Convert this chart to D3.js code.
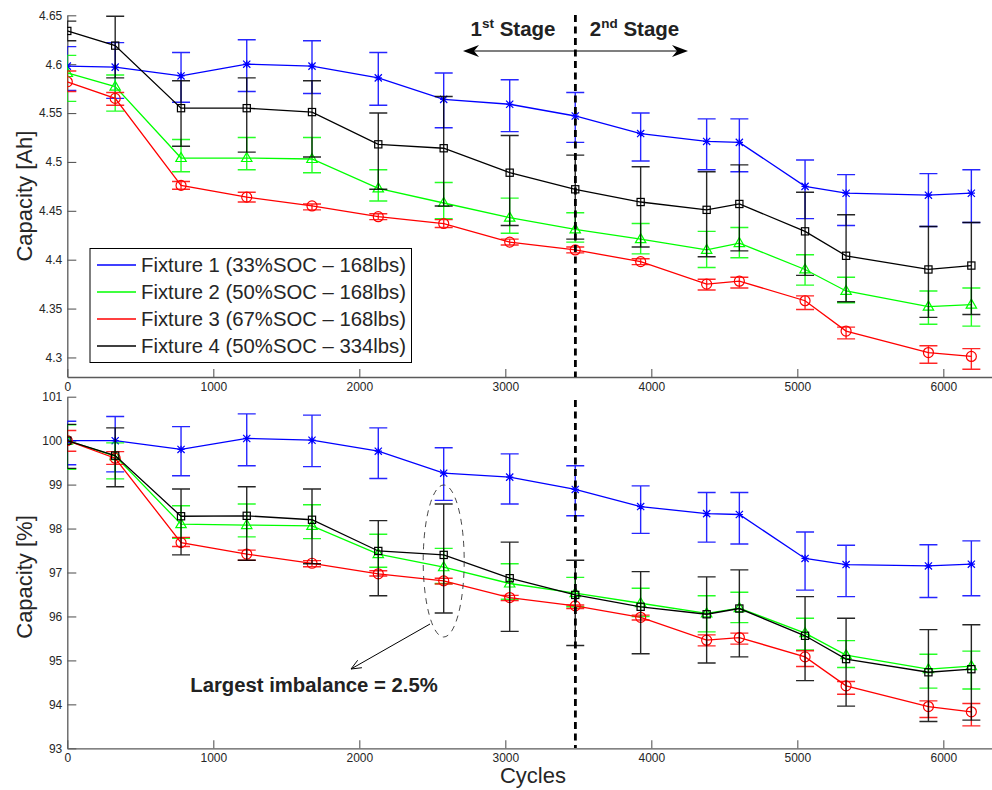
<!DOCTYPE html>
<html><head><meta charset="utf-8">
<script src="https://cdn.jsdelivr.net/npm/d3@7"></script>
<style>
html,body{margin:0;padding:0;background:#fff;}
svg{display:block;font-family:"Liberation Sans",Arial,Helvetica,sans-serif;}
</style></head>
<body><svg id="chart" width="992" height="790"></svg>
<script>
// ---------- data ----------
const cycles = [0, 328, 779, 1229, 1676, 2130, 2578, 3030, 3479, 3927, 4379, 4603, 5053, 5334, 5898, 6192];
const seriesNames = ["Fixture 1 (33%SOC \u2013 168lbs)", "Fixture 2 (50%SOC \u2013 168lbs)", "Fixture 3 (67%SOC \u2013 168lbs)", "Fixture 4 (50%SOC \u2013 334lbs)"];
const seriesColors = ["#0000ff", "#00ff00", "#ff0000", "#000000"];
const seriesMarkers = ["asterisk", "triangle", "circle", "square"];

// Capacity [Ah]
const ah1   = [4.598, 4.597, 4.588, 4.600, 4.598, 4.586, 4.564, 4.559, 4.547, 4.529, 4.521, 4.520, 4.475, 4.468, 4.466, 4.468];
const ah1Hi = [4.618, 4.622, 4.612, 4.625, 4.624, 4.612, 4.591, 4.584, 4.571, 4.550, 4.544, 4.544, 4.502, 4.487, 4.488, 4.492];
const ah1Lo = [4.573, 4.565, 4.561, 4.572, 4.570, 4.558, 4.535, 4.531, 4.520, 4.501, 4.492, 4.490, 4.442, 4.435, 4.434, 4.438];
const ah2   = [4.591, 4.577, 4.504, 4.504, 4.503, 4.473, 4.458, 4.443, 4.431, 4.421, 4.410, 4.417, 4.390, 4.368, 4.352, 4.354];
const ah2Hi = [4.609, 4.589, 4.523, 4.525, 4.525, 4.492, 4.479, 4.463, 4.448, 4.437, 4.429, 4.433, 4.405, 4.382, 4.368, 4.371];
const ah2Lo = [4.562, 4.552, 4.490, 4.492, 4.489, 4.460, 4.442, 4.427, 4.418, 4.406, 4.392, 4.402, 4.374, 4.356, 4.334, 4.332];
const ah3   = [4.582, 4.565, 4.476, 4.464, 4.455, 4.444, 4.437, 4.418, 4.410, 4.398, 4.375, 4.378, 4.358, 4.327, 4.305, 4.301];
const ah3Hi = [4.593, 4.571, 4.480, 4.469, 4.457, 4.447, 4.441, 4.421, 4.413, 4.401, 4.380, 4.382, 4.363, 4.331, 4.312, 4.309];
const ah3Lo = [4.572, 4.558, 4.472, 4.459, 4.451, 4.441, 4.433, 4.415, 4.407, 4.395, 4.369, 4.371, 4.349, 4.319, 4.294, 4.288];
const ah4   = [4.634, 4.619, 4.555, 4.555, 4.551, 4.518, 4.514, 4.489, 4.472, 4.459, 4.451, 4.457, 4.429, 4.404, 4.390, 4.394];
const ah4Hi = [4.644, 4.649, 4.583, 4.586, 4.583, 4.550, 4.567, 4.527, 4.507, 4.495, 4.490, 4.497, 4.469, 4.446, 4.434, 4.438];
const ah4Lo = [4.624, 4.586, 4.516, 4.510, 4.505, 4.472, 4.455, 4.435, 4.421, 4.413, 4.403, 4.409, 4.384, 4.357, 4.341, 4.344];

// Capacity [%]
const pc1   = [100.00, 100.00, 99.80, 100.05, 100.01, 99.76, 99.26, 99.17, 98.89, 98.50, 98.34, 98.32, 97.32, 97.18, 97.15, 97.19];
const pc1Hi = [100.44, 100.55, 100.32, 100.61, 100.58, 100.29, 99.84, 99.70, 99.43, 98.97, 98.82, 98.82, 97.92, 97.62, 97.63, 97.72];
const pc1Lo = [99.45, 99.29, 99.20, 99.43, 99.41, 99.14, 98.64, 98.56, 98.29, 97.89, 97.69, 97.65, 96.60, 96.45, 96.43, 96.47];
const pc2   = [100.00, 99.65, 98.10, 98.08, 98.06, 97.42, 97.12, 96.75, 96.53, 96.30, 96.07, 96.19, 95.62, 95.12, 94.80, 94.87];
const pc2Hi = [100.36, 99.95, 98.52, 98.56, 98.54, 97.87, 97.55, 97.20, 96.89, 96.64, 96.47, 96.55, 95.96, 95.45, 95.14, 95.21];
const pc2Lo = [99.35, 99.13, 97.78, 97.81, 97.77, 97.12, 96.75, 96.39, 96.22, 96.00, 95.65, 95.86, 95.24, 94.84, 94.37, 94.35];
const pc3   = [100.00, 99.60, 97.68, 97.42, 97.21, 96.97, 96.81, 96.43, 96.24, 95.98, 95.46, 95.52, 95.08, 94.42, 93.95, 93.83];
const pc3Hi = [100.23, 99.75, 97.80, 97.51, 97.27, 97.04, 96.87, 96.48, 96.26, 96.03, 95.58, 95.62, 95.22, 94.52, 94.08, 94.02];
const pc3Lo = [99.76, 99.46, 97.59, 97.28, 97.13, 96.92, 96.74, 96.36, 96.18, 95.92, 95.33, 95.37, 94.86, 94.23, 93.70, 93.51];
const pc4   = [100.00, 99.66, 98.28, 98.29, 98.20, 97.49, 97.40, 96.87, 96.49, 96.22, 96.05, 96.18, 95.56, 95.03, 94.73, 94.80];
const pc4Hi = [100.37, 100.29, 98.90, 98.95, 98.90, 98.18, 98.56, 97.69, 97.28, 97.02, 96.90, 97.06, 96.45, 95.96, 95.70, 95.81];
const pc4Lo = [99.37, 98.95, 97.40, 97.28, 97.20, 96.47, 96.08, 95.66, 95.34, 95.15, 94.94, 95.08, 94.54, 93.96, 93.61, 93.64];

const xTicks = [0, 1000, 2000, 3000, 4000, 5000, 6000];
const yTicksAh = [4.3, 4.35, 4.4, 4.45, 4.5, 4.55, 4.6, 4.65];
const yTicksPc = [93, 94, 95, 96, 97, 98, 99, 100, 101];
const stageCycle = 3480;
const imbalanceCycle = 2578;
const imbalanceText = "Largest imbalance = 2.5%";

// ---------- layout ----------
const svg = d3.select("#chart");
const X0 = 67.3, X1 = 991.5;
const x = d3.scaleLinear().domain([0, 6330]).range([X0, X1]);
const yTop = d3.scaleLinear().domain([4.28, 4.65]).range([377, 15.3]);
const yBot = d3.scaleLinear().domain([93, 101]).range([748.3, 396.7]);

svg.append("defs").append("clipPath").attr("id", "clip")
  .append("rect").attr("x", X0).attr("y", 0).attr("width", 992 - X0).attr("height", 790);

const axisColor = "#5a5a5a", textColor = "#262626";

function drawAxes(y, yTicks, fmt) {
  const gx = svg.append("g").attr("transform", `translate(0,${y.range()[0]})`)
    .call(d3.axisBottom(x).tickValues(xTicks).tickSizeInner(-8).tickSizeOuter(0).tickPadding(5).tickFormat(d3.format("d")));
  const gy = svg.append("g").attr("transform", `translate(${X0},0)`)
    .call(d3.axisLeft(y).tickValues(yTicks).tickSizeInner(-9).tickSizeOuter(0).tickPadding(5).tickFormat(fmt));
  [gx, gy].forEach(g => {
    g.select(".domain").attr("stroke", axisColor).attr("stroke-width", 1.3);
    g.selectAll(".tick line").attr("stroke", axisColor).attr("stroke-width", 1.1);
    g.selectAll(".tick text").attr("fill", textColor).style("font-size", "12px")
      .style("font-family", '"Liberation Sans",Arial,sans-serif');
  });
}

function marker(g, type, cx, cy, color) {
  if (type === "square") {
    g.append("rect").attr("x", cx - 3.6).attr("y", cy - 3.6).attr("width", 7.2).attr("height", 7.2)
      .attr("fill", "none").attr("stroke", color).attr("stroke-width", 1.2);
  } else if (type === "circle") {
    g.append("circle").attr("cx", cx).attr("cy", cy).attr("r", 5)
      .attr("fill", "none").attr("stroke", color).attr("stroke-width", 1.2);
  } else if (type === "triangle") {
    g.append("path").attr("d", `M${cx},${cy - 5.5}L${cx + 5.2},${cy + 3.5}L${cx - 5.2},${cy + 3.5}Z`)
      .attr("fill", "none").attr("stroke", color).attr("stroke-width", 1.2);
  } else {
    const s = 3.6;
    g.append("path").attr("d", `M${cx - s},${cy - s}L${cx + s},${cy + s}M${cx - s},${cy + s}L${cx + s},${cy - s}M${cx},${cy - s}L${cx},${cy + s}M${cx - s},${cy}L${cx + s},${cy}`)
      .attr("fill", "none").attr("stroke", color).attr("stroke-width", 1.2);
  }
}

function drawSeries(y, vals, his, los, color, mtype) {
  const g = svg.append("g").attr("clip-path", "url(#clip)");
  const pts = cycles.map((c, i) => ({ c, v: vals[i], hi: his[i], lo: los[i] }));
  pts.forEach(p => {
    const px = x(p.c), yh = y(p.hi), yl = y(p.lo), w = 9;
    g.append("path").attr("d", `M${px},${yh}L${px},${yl}M${px - w},${yh}L${px + w},${yh}M${px - w},${yl}L${px + w},${yl}`)
      .attr("stroke", color).attr("stroke-width", 1.4).attr("fill", "none").attr("opacity", 0.85);
  });
  g.append("path").datum(pts)
    .attr("d", d3.line().x(p => x(p.c)).y(p => y(p.v)))
    .attr("fill", "none").attr("stroke", color).attr("stroke-width", 1.3);
  pts.forEach(p => marker(g, mtype, x(p.c), y(p.v), color));
}

// ---------- top panel ----------
drawAxes(yTop, yTicksAh, d => String(+d.toFixed(2)));
const topSets = [[ah1, ah1Hi, ah1Lo], [ah2, ah2Hi, ah2Lo], [ah3, ah3Hi, ah3Lo], [ah4, ah4Hi, ah4Lo]];
topSets.forEach((s, i) => drawSeries(yTop, s[0], s[1], s[2], seriesColors[i], seriesMarkers[i]));

svg.append("line").attr("x1", x(stageCycle)).attr("x2", x(stageCycle)).attr("y1", 15).attr("y2", 377)
  .attr("stroke", "#000").attr("stroke-width", 2.8).attr("stroke-dasharray", "7,4.5");

const ay = 51, axL = 463, axR = 688;
svg.append("line").attr("x1", axL + 4).attr("x2", axR - 4).attr("y1", ay).attr("y2", ay).attr("stroke", "#000").attr("stroke-width", 1.2);
function arrowHead(tx, ty, dir) {
  const L = 16, H = 6, back = 11;
  svg.append("path").attr("d", `M${tx},${ty}L${tx - dir * L},${ty - H}L${tx - dir * back},${ty}L${tx - dir * L},${ty + H}Z`)
    .attr("fill", "#000");
}
arrowHead(axL, ay, -1);
arrowHead(axR, ay, 1);

function stageLabel(cx, num, sup) {
  const t = svg.append("text").attr("x", cx).attr("y", 36).attr("text-anchor", "middle")
    .style("font-size", "20.5px").style("font-weight", "bold").attr("fill", "#222");
  t.append("tspan").text(num);
  t.append("tspan").attr("dy", -8).style("font-size", "13.5px").text(sup);
  t.append("tspan").attr("dy", 8).text(" Stage");
}
stageLabel(513, "1", "st");
stageLabel(634.5, "2", "nd");

// legend
const lg = svg.append("g");
lg.append("rect").attr("x", 90).attr("y", 248.5).attr("width", 321.5).attr("height", 114)
  .attr("fill", "#fff").attr("stroke", "#000").attr("stroke-width", 1);
seriesNames.forEach((n, i) => {
  const yy = 265 + i * 27;
  lg.append("line").attr("x1", 97).attr("x2", 136).attr("y1", yy).attr("y2", yy)
    .attr("stroke", seriesColors[i]).attr("stroke-width", 1.3);
  lg.append("text").attr("x", 141).attr("y", yy).attr("dy", "0.35em")
    .style("font-size", "20.3px").attr("fill", textColor).text(n);
});

svg.append("text").attr("transform", `translate(32,${(15.3 + 377) / 2}) rotate(-90)`)
  .attr("text-anchor", "middle").style("font-size", "22px").attr("fill", textColor).text("Capacity [Ah]");

// ---------- bottom panel ----------
drawAxes(yBot, yTicksPc, d3.format("d"));
const botSets = [[pc1, pc1Hi, pc1Lo], [pc2, pc2Hi, pc2Lo], [pc3, pc3Hi, pc3Lo], [pc4, pc4Hi, pc4Lo]];
botSets.forEach((s, i) => drawSeries(yBot, s[0], s[1], s[2], seriesColors[i], seriesMarkers[i]));

svg.append("line").attr("x1", x(stageCycle)).attr("x2", x(stageCycle)).attr("y1", 400).attr("y2", 748)
  .attr("stroke", "#000").attr("stroke-width", 2.8).attr("stroke-dasharray", "7,4.5");

const ex = x(imbalanceCycle);
svg.append("ellipse").attr("cx", ex).attr("cy", 561).attr("rx", 20.5).attr("ry", 76)
  .attr("fill", "none").attr("stroke", "#333").attr("stroke-width", 0.9).attr("stroke-dasharray", "6,5");
const a0 = [430, 624], a1 = [351, 669];
svg.append("line").attr("x1", a0[0]).attr("y1", a0[1]).attr("x2", a1[0]).attr("y2", a1[1])
  .attr("stroke", "#000").attr("stroke-width", 1);
{
  const ang = Math.atan2(a1[1] - a0[1], a1[0] - a0[0]);
  const L = 11, spread = 0.4;
  const p1 = [a1[0] - L * Math.cos(ang - spread), a1[1] - L * Math.sin(ang - spread)];
  const p2 = [a1[0] - L * Math.cos(ang + spread), a1[1] - L * Math.sin(ang + spread)];
  svg.append("path").attr("d", `M${p1[0]},${p1[1]}L${a1[0]},${a1[1]}L${p2[0]},${p2[1]}`)
    .attr("fill", "none").attr("stroke", "#000").attr("stroke-width", 1);
}
svg.append("text").attr("x", 314).attr("y", 692).attr("text-anchor", "middle")
  .style("font-size", "20.3px").style("font-weight", "bold").attr("fill", "#222").text(imbalanceText);

svg.append("text").attr("transform", `translate(32,577) rotate(-90)`)
  .attr("text-anchor", "middle").style("font-size", "22px").attr("fill", textColor).text("Capacity [%]");

svg.append("text").attr("x", 533).attr("y", 783).attr("text-anchor", "middle")
  .style("font-size", "22px").attr("fill", textColor).text("Cycles");
</script></body></html>
